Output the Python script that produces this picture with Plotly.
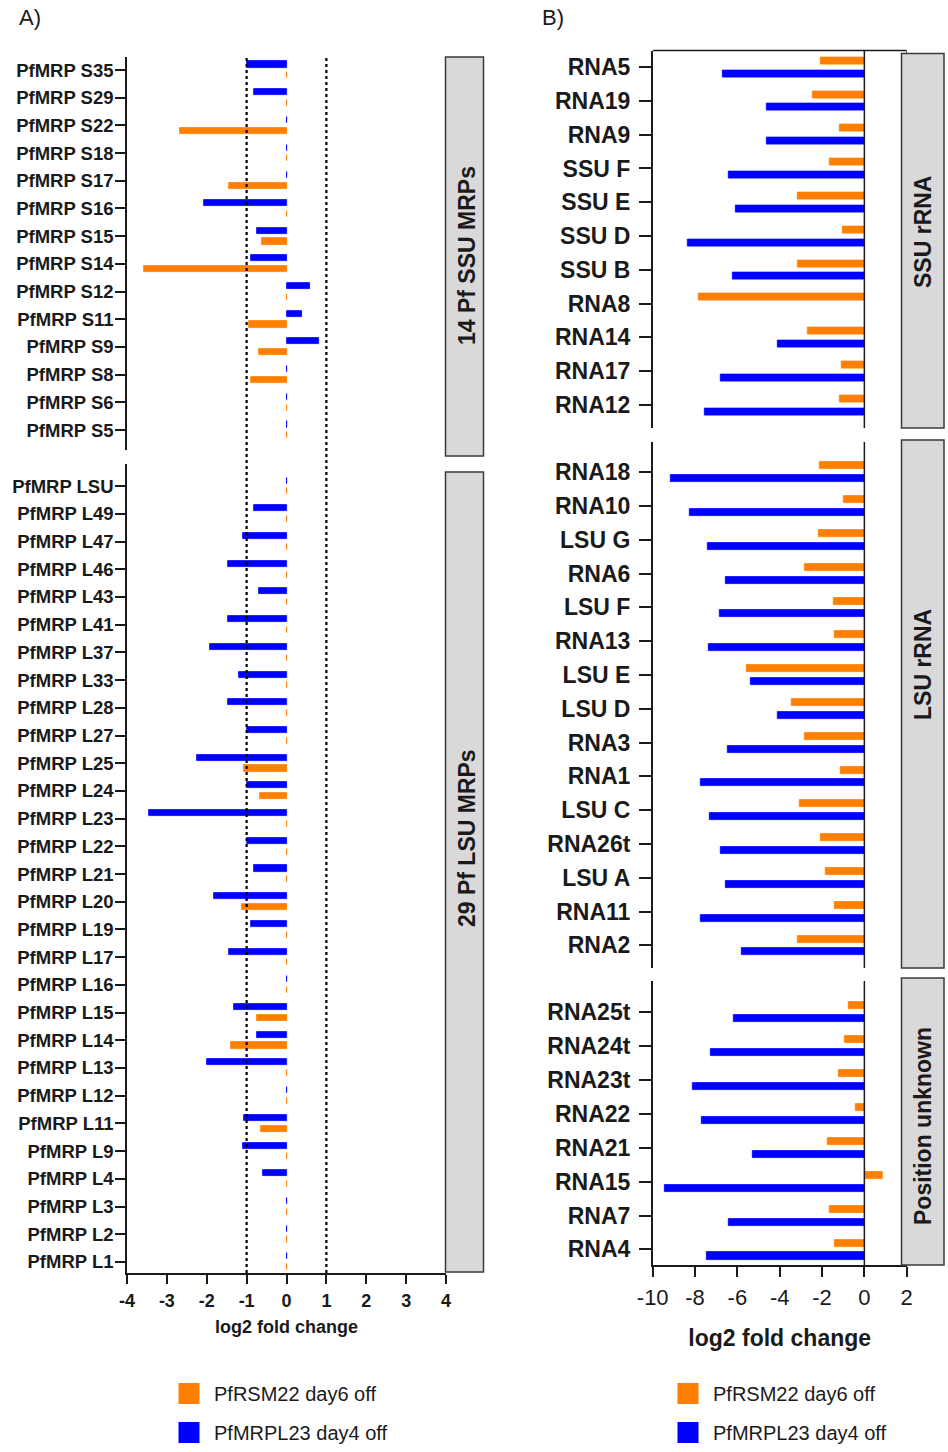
import plotly.graph_objects as go

W, H = 948, 1452
ORANGE = "#FF8000"
BLUE = "#0000FF"
INK = "#1a1a1a"
FONT = "Liberation Sans, Arial, sans-serif"

# ---------------- Panel A data ----------------
ssu_mrp = ["PfMRP S35", "PfMRP S29", "PfMRP S22", "PfMRP S18", "PfMRP S17", "PfMRP S16",
           "PfMRP S15", "PfMRP S14", "PfMRP S12", "PfMRP S11", "PfMRP S9", "PfMRP S8",
           "PfMRP S6", "PfMRP S5"]
ssu_mrp_rsm22 = [0, 0, -2.67, 0, -1.44, 0, -0.62, -3.57, 0, -0.93, -0.68, -0.90, 0, 0]
ssu_mrp_mrpl23 = [-1.00, -0.82, 0, 0, 0, -2.06, -0.75, -0.88, 0.60, 0.39, 0.82, 0, 0, 0]

lsu_mrp = ["PfMRP LSU", "PfMRP L49", "PfMRP L47", "PfMRP L46", "PfMRP L43", "PfMRP L41",
           "PfMRP L37", "PfMRP L33", "PfMRP L28", "PfMRP L27", "PfMRP L25", "PfMRP L24",
           "PfMRP L23", "PfMRP L22", "PfMRP L21", "PfMRP L20", "PfMRP L19", "PfMRP L17",
           "PfMRP L16", "PfMRP L15", "PfMRP L14", "PfMRP L13", "PfMRP L12", "PfMRP L11",
           "PfMRP L9", "PfMRP L4", "PfMRP L3", "PfMRP L2", "PfMRP L1"]
lsu_mrp_rsm22 = [0, 0, 0, 0, 0, 0, 0, 0, 0, 0, -1.06, -0.67, 0, 0, 0, -1.11, 0, 0, 0,
                 -0.73, -1.38, 0, 0, -0.64, 0, 0, 0, 0, 0]
lsu_mrp_mrpl23 = [0, -0.81, -1.08, -1.46, -0.68, -1.46, -1.91, -1.19, -1.46, -1.00, -2.25,
                  -1.00, -3.45, -1.00, -0.81, -1.82, -0.89, -1.45, 0, -1.31, -0.73, -1.99,
                  0, -1.07, -1.08, -0.60, 0, 0, 0]

# ---------------- Panel B data ----------------
ssu_rrna = ["RNA5", "RNA19", "RNA9", "SSU F", "SSU E", "SSU D", "SSU B", "RNA8", "RNA14",
            "RNA17", "RNA12"]
ssu_rrna_rsm22 = [-2.06, -2.44, -1.15, -1.65, -3.17, -1.01, -3.17, -7.83, -2.68, -1.06, -1.18]
ssu_rrna_mrpl23 = [-6.71, -4.63, -4.63, -6.43, -6.08, -8.36, -6.22, None, -4.11, -6.79, -7.54]

lsu_rrna = ["RNA18", "RNA10", "LSU G", "RNA6", "LSU F", "RNA13", "LSU E", "LSU D", "RNA3",
            "RNA1", "LSU C", "RNA26t", "LSU A", "RNA11", "RNA2"]
lsu_rrna_rsm22 = [-2.13, -0.98, -2.16, -2.80, -1.46, -1.42, -5.56, -3.42, -2.83, -1.13,
                  -3.04, -2.08, -1.81, -1.42, -3.13]
lsu_rrna_mrpl23 = [-9.13, -8.24, -7.42, -6.54, -6.82, -7.37, -5.39, -4.08, -6.46, -7.72,
                   -7.31, -6.80, -6.54, -7.75, -5.78]

unk_rrna = ["RNA25t", "RNA24t", "RNA23t", "RNA22", "RNA21", "RNA15", "RNA7", "RNA4"]
unk_rrna_rsm22 = [-0.76, -0.93, -1.21, -0.43, -1.72, 0.85, -1.62, -1.40]
unk_rrna_mrpl23 = [-6.19, -7.28, -8.09, -7.69, -5.28, -9.45, -6.41, -7.45]

series_names = ["PfRSM22 day6 off", "PfMRPL23 day4 off"]
a_xticks = [-4, -3, -2, -1, 0, 1, 2, 3, 4]
b_xticks = [-10, -8, -6, -4, -2, 0, 2]


def px(x):
    return x / W


def py(y):
    return 1 - y / H


fig = go.Figure()


def add_pair(names, v_or, v_bl, xa, ya, off_or, off_bl, w):
    fig.add_trace(go.Bar(y=names, x=v_bl, orientation="h", xaxis=xa, yaxis=ya,
                         width=w, offset=off_bl, showlegend=False, name=series_names[1],
                         marker=dict(color=BLUE, line=dict(color=BLUE, width=0.8))))
    fig.add_trace(go.Bar(y=names, x=v_or, orientation="h", xaxis=xa, yaxis=ya,
                         width=w, offset=off_or, showlegend=False, name=series_names[0],
                         marker=dict(color=ORANGE, line=dict(color=ORANGE, width=0.8))))


# Panel A: blue above the tick, orange below
add_pair(ssu_mrp, ssu_mrp_rsm22, ssu_mrp_mrpl23, "x", "y", 0.08, -0.31, 0.22)
add_pair(lsu_mrp, lsu_mrp_rsm22, lsu_mrp_mrpl23, "x2", "y2", 0.08, -0.31, 0.22)
# Panel B: orange above the tick, blue below
add_pair(ssu_rrna, ssu_rrna_rsm22, ssu_rrna_mrpl23, "x3", "y3", -0.29, 0.09, 0.21)
add_pair(lsu_rrna, lsu_rrna_rsm22, lsu_rrna_mrpl23, "x4", "y4", -0.29, 0.09, 0.21)
add_pair(unk_rrna, unk_rrna_rsm22, unk_rrna_mrpl23, "x5", "y5", -0.29, 0.09, 0.21)

# legend entries (one legend per panel)
for lg, xa, ya in (("legend", "x2", "y2"), ("legend2", "x5", "y5")):
    for nm, col in zip(series_names, [ORANGE, BLUE]):
        fig.add_trace(go.Scatter(x=[None], y=[None], mode="markers", name=nm,
                                 xaxis=xa, yaxis=ya, legend=lg, legendgroup=lg + nm,
                                 marker=dict(symbol="square", size=16, color=col,
                                             line=dict(color=col, width=5))))

A_X = [px(127), px(446)]
B_X = [px(652.7), px(906.7)]


def yax(names, dom, rng, anchor, size, tlen, stand):
    return dict(type="category", categoryorder="array", categoryarray=names,
                range=rng, domain=dom, anchor=anchor, showline=True, linecolor=INK,
                linewidth=1.5, ticks="outside", ticklen=tlen, tickwidth=1.5, tickcolor=INK,
                ticklabelstandoff=stand, automargin=False,
                tickfont=dict(family=FONT, size=size, color=INK, weight="bold"),
                showgrid=False, zeroline=False)


def xhidden(dom, rng, anchor):
    return dict(domain=dom, range=rng, anchor=anchor, showline=False, showticklabels=False,
                ticks="", showgrid=False, zeroline=False, automargin=False)


fig.update_layout(
    template="none",
    width=W, height=H, margin=dict(l=0, r=0, t=0, b=0, pad=0), autosize=False,
    paper_bgcolor="white", plot_bgcolor="rgba(0,0,0,0)",
    barmode="overlay", bargap=0,
    font=dict(family=FONT, color=INK),
    xaxis=xhidden(A_X, [-4, 4], "y"),
    yaxis=yax(ssu_mrp, [py(450), py(57)], [13.72, -0.47], "x", 18.5, 10, -2),
    xaxis2=dict(domain=A_X, range=[-4, 4], anchor="y2", showline=True, linecolor=INK,
                linewidth=1.5, ticks="outside", ticklen=9, tickwidth=1.5, tickcolor=INK,
                tickvals=a_xticks, ticktext=[str(v) for v in a_xticks],
                tickfont=dict(family=FONT, size=18, color=INK, weight="bold"),
                ticklabelstandoff=2, showgrid=False, zeroline=False, automargin=False,
                title=dict(text="log2 fold change", standoff=10,
                           font=dict(family=FONT, size=18, color=INK, weight="bold"))),
    yaxis2=yax(lsu_mrp, [py(1273), py(464)], [28.4, -0.8], "x2", 18.5, 10, -2),
    xaxis3=xhidden(B_X, [-10, 2], "y3"),
    yaxis3=yax(ssu_rrna, [py(428), py(50.5)], [10.68, -0.49], "x3", 23, 12, 4),
    xaxis4=xhidden(B_X, [-10, 2], "y4"),
    yaxis4=yax(lsu_rrna, [py(968), py(442)], [14.67, -0.89], "x4", 23, 12, 4),
    xaxis5=dict(domain=B_X, range=[-10, 2], anchor="y5", showline=True, linecolor=INK,
                linewidth=1.5, ticks="outside", ticklen=10, tickwidth=1.5, tickcolor=INK,
                tickvals=b_xticks, ticktext=[str(v) for v in b_xticks],
                tickfont=dict(family=FONT, size=22, color=INK),
                ticklabelstandoff=2, showgrid=False, zeroline=False, automargin=False,
                title=dict(text="log2 fold change", standoff=21,
                           font=dict(family=FONT, size=23, color=INK, weight="bold"))),
    yaxis5=yax(unk_rrna, [py(1265), py(981)], [7.46, -0.92], "x5", 23, 12, 4),
    legend=dict(x=px(164), y=0, xanchor="left", yanchor="bottom",
                font=dict(family=FONT, size=20, color=INK), tracegroupgap=10,
                itemwidth=40, bgcolor="rgba(0,0,0,0)"),
    legend2=dict(x=px(663), y=0, xanchor="left", yanchor="bottom",
                 font=dict(family=FONT, size=20, color=INK), tracegroupgap=10,
                 itemwidth=40, bgcolor="rgba(0,0,0,0)"),
)

shapes = []
# dotted threshold lines in panel A
for xv in (-1, 1):
    shapes.append(dict(type="line", xref="x2", yref="paper", x0=xv, x1=xv,
                       y0=py(1273), y1=py(56), layer="above",
                       line=dict(color="black", width=2.2, dash="dot")))
# zero lines in panel B
for xa, ya in (("x3", "y3"), ("x4", "y4"), ("x5", "y5")):
    shapes.append(dict(type="line", xref=xa, yref=ya + " domain", x0=0, x1=0, y0=0, y1=1,
                       layer="above", line=dict(color=INK, width=1.5)))
# top frame of panel B SSU plot
shapes.append(dict(type="line", xref="x3", yref="y3 domain", x0=-10, x1=2, y0=1, y1=1,
                   line=dict(color=INK, width=1.5)))
shapes.append(dict(type="line", xref="x3", yref="paper", x0=2, x1=2, y0=py(58), y1=py(50.5),
                   line=dict(color=INK, width=1.5)))
# grey group boxes
boxes = [(445.5, 483.5, 57, 456), (445.5, 483.5, 472, 1272),
         (901.5, 944, 53.5, 428), (901.5, 944, 440, 968), (901.5, 944, 978, 1265)]
for x0, x1, y0, y1 in boxes:
    shapes.append(dict(type="rect", xref="paper", yref="paper", x0=px(x0), x1=px(x1),
                       y0=py(y1), y1=py(y0), layer="above", fillcolor="#d9d9d9",
                       line=dict(color="#3a3a3a", width=1.5)))
fig.update_layout(shapes=shapes)

annotations = [
    dict(text="A)", x=px(17), y=py(18), xanchor="left", yanchor="middle",
         font=dict(family=FONT, size=22, color=INK)),
    dict(text="B)", x=px(540), y=py(18), xanchor="left", yanchor="middle",
         font=dict(family=FONT, size=22, color=INK)),
]
box_labels = [("14 Pf SSU MRPs", 467, 256, 23), ("29 Pf LSU MRPs", 467, 838, 23),
              ("SSU rRNA", 923, 232, 23), ("LSU rRNA", 923, 665, 23),
              ("Position unknown", 923, 1126, 23)]
for t, x, y, s in box_labels:
    annotations.append(dict(text=t, x=px(x), y=py(y), xref="paper", yref="paper",
                            textangle=-90, showarrow=False, xanchor="center",
                            yanchor="middle",
                            font=dict(family=FONT, size=s, color=INK, weight="bold")))
for a in annotations:
    a.setdefault("xref", "paper")
    a.setdefault("yref", "paper")
    a.setdefault("showarrow", False)
fig.update_layout(annotations=annotations)

page_fix = (
    "var de=document.documentElement, b=document.body;"
    "[de,b].forEach(function(e){e.style.margin='0';e.style.padding='0';"
    "e.style.overflow='hidden';e.style.height='" + str(H) + "px';});"
)
fig.write_html("out.html", config={"displayModeBar": False}, post_script=page_fix)
